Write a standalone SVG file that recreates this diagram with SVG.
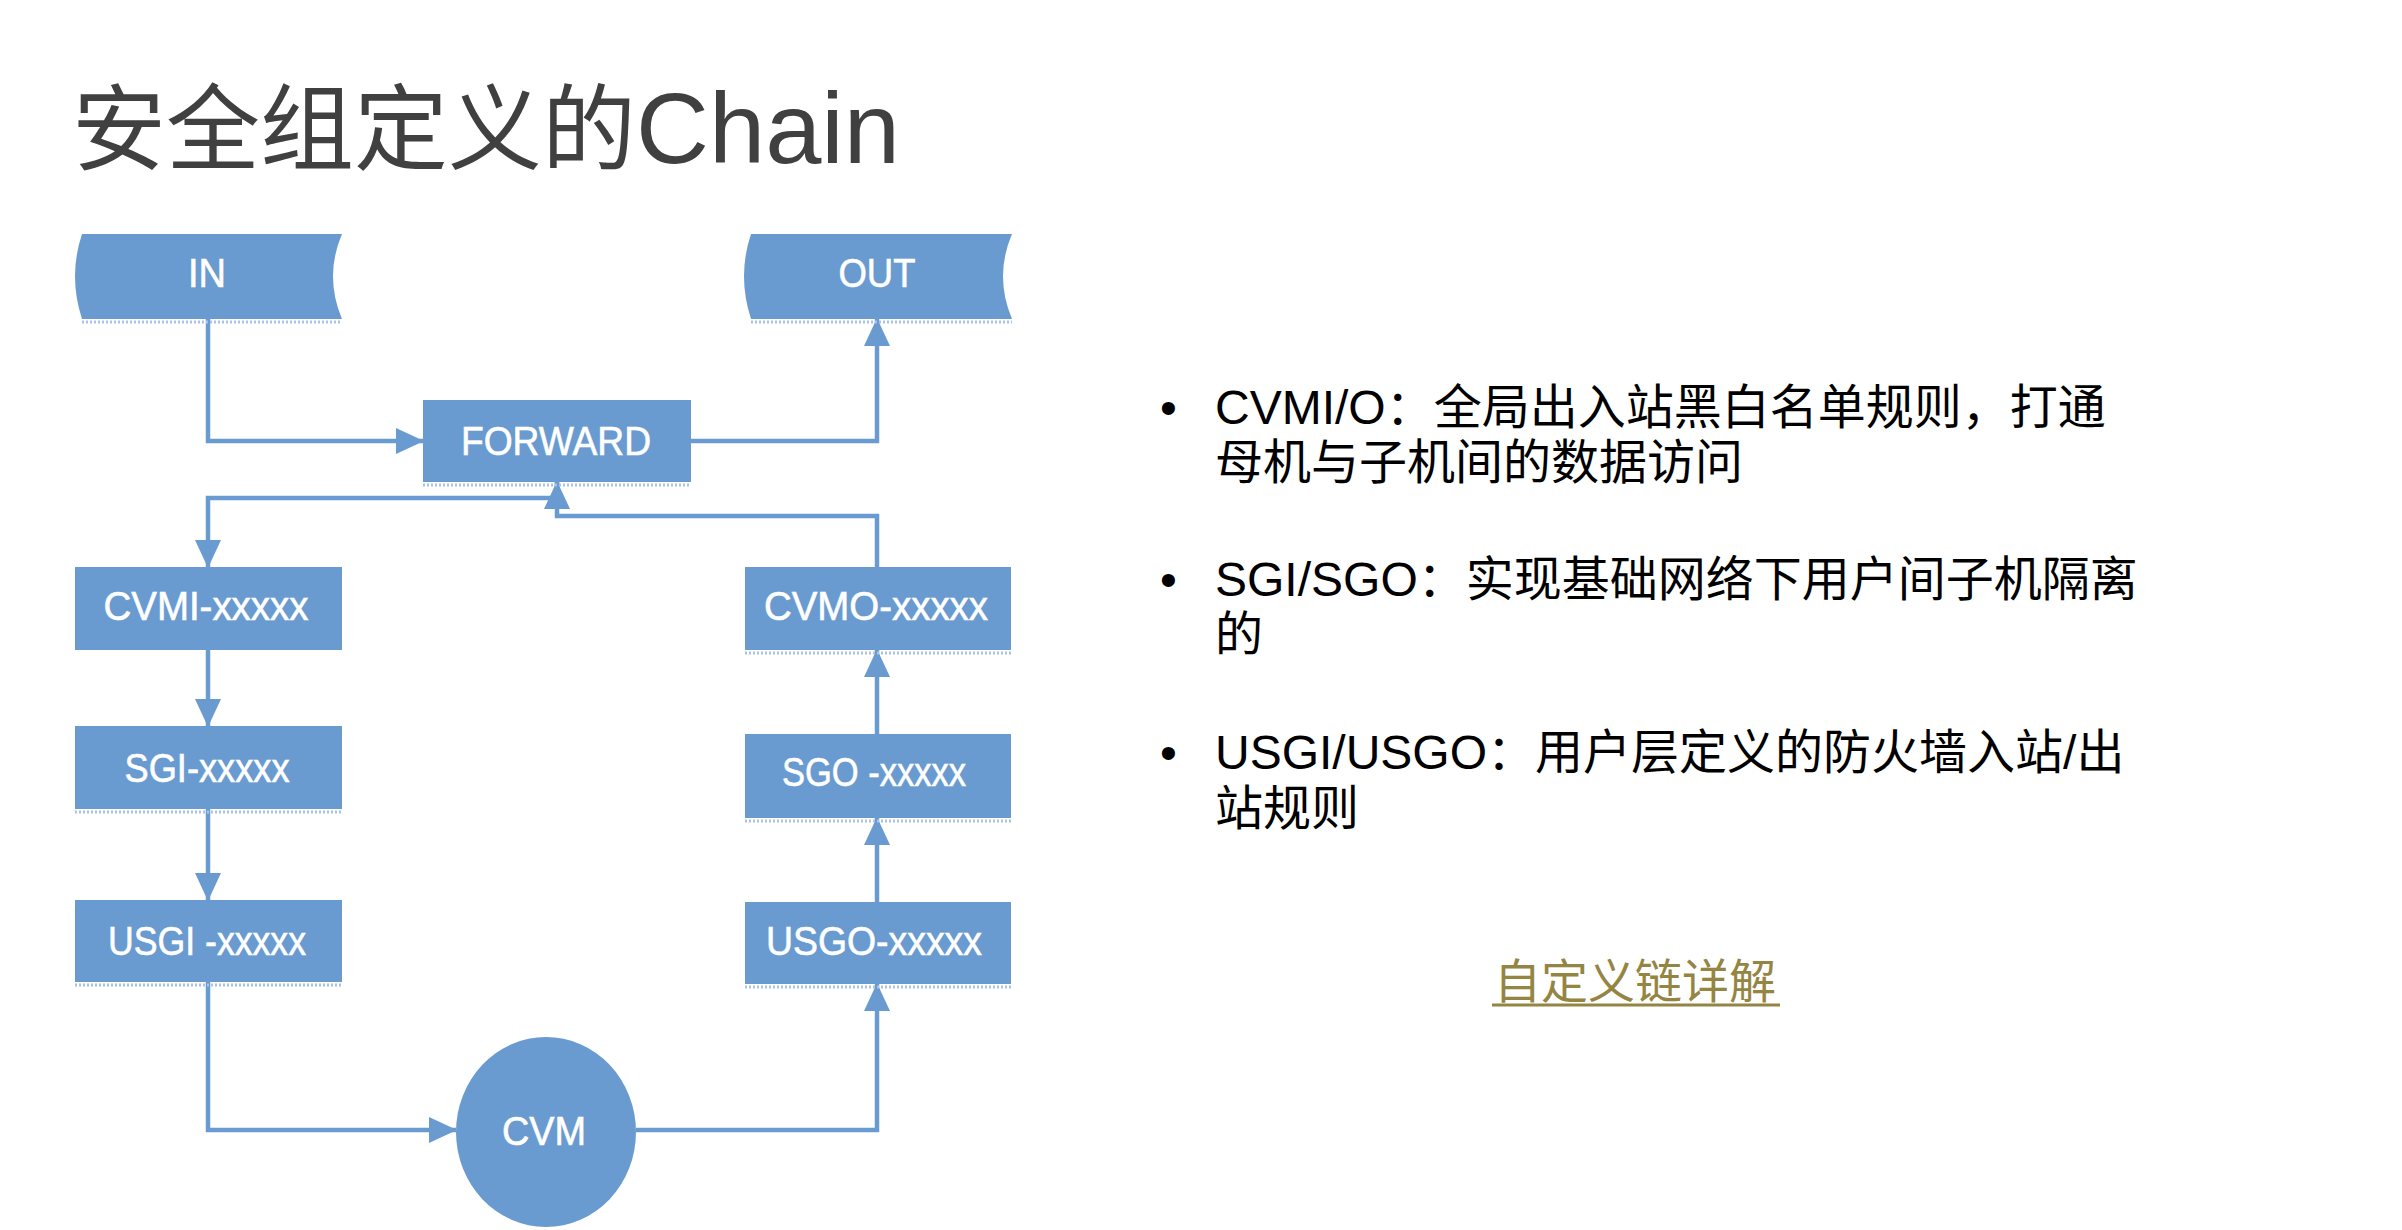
<svg xmlns="http://www.w3.org/2000/svg" width="2402" height="1230" viewBox="0 0 2402 1230">
<defs>
<marker id="arr" viewBox="0 0 28 26" refX="27" refY="13" markerWidth="28" markerHeight="26" markerUnits="userSpaceOnUse" orient="auto">
<path d="M0,0 L28,13 L0,26 Z" fill="#6a9bd0"/>
</marker>
<style>
.node{fill:#6a9bd0;}
.lbl{font-family:"Liberation Sans","Open Sans",sans-serif;font-size:40px;fill:#ffffff;stroke:#ffffff;stroke-width:0.6;text-anchor:middle;}
.shadow{fill:none;stroke:#a9c3e6;stroke-width:3;stroke-dasharray:2 2;}
.conn{fill:none;stroke:#6a9bd0;stroke-width:4.5;marker-end:url(#arr);}
.body{font-family:"Liberation Sans","Noto Sans CJK SC",sans-serif;font-size:48px;fill:#000000;}
.title{font-family:"Liberation Sans","Noto Sans CJK SC",sans-serif;font-size:94px;fill:#404040;}
.link{font-family:"Noto Sans CJK SC",sans-serif;font-size:47px;fill:#948542;}
</style>
</defs>
<rect width="2402" height="1230" fill="#ffffff"/>
<text class="title" x="72" y="163">安全组定义的<tspan font-size="101">Chain</tspan></text>

<g id="connectors">
<path class="conn" d="M208,319 V441 H423"/>
<path class="conn" d="M691,441 H877 V319"/>
<path class="conn" d="M557,482 V498 H208 V567"/>
<path class="conn" d="M877,567 V516 H557 V482"/>
<path class="conn" d="M208,650 V726"/>
<path class="conn" d="M208,809 V900"/>
<path class="conn" d="M208,982 V1130 H456"/>
<path class="conn" d="M636,1130 H877 V984"/>
<path class="conn" d="M877,902 V818"/>
<path class="conn" d="M877,734 V650"/>
</g>

<g id="in">
<path class="node" d="M82,234 L342,234 Q324,276 342,319 L82,319 Q68,276 82,234 Z"/>
<line class="shadow" x1="82" y1="322" x2="342" y2="322"/>
<text class="lbl" x="207" y="287" textLength="38" lengthAdjust="spacingAndGlyphs">IN</text>
</g>
<g id="out">
<path class="node" d="M751,234 L1012,234 Q994,276 1012,319 L751,319 Q737,276 751,234 Z"/>
<line class="shadow" x1="751" y1="322" x2="1012" y2="322"/>
<text class="lbl" x="877" y="287" textLength="77" lengthAdjust="spacingAndGlyphs">OUT</text>
</g>
<g id="forward">
<rect class="node" x="423" y="400" width="268" height="82"/>
<line class="shadow" x1="423" y1="485" x2="691" y2="485"/>
<text class="lbl" x="556" y="455" textLength="190" lengthAdjust="spacingAndGlyphs">FORWARD</text>
</g>
<g id="cvmi">
<rect class="node" x="75" y="567" width="267" height="83"/>
<text class="lbl" x="206" y="620" textLength="205" lengthAdjust="spacingAndGlyphs">CVMI-xxxxx</text>
</g>
<g id="sgi">
<rect class="node" x="75" y="726" width="267" height="83"/>
<line class="shadow" x1="75" y1="812" x2="342" y2="812"/>
<text class="lbl" x="207" y="782" textLength="165" lengthAdjust="spacingAndGlyphs">SGI-xxxxx</text>
</g>
<g id="usgi">
<rect class="node" x="75" y="900" width="267" height="82"/>
<line class="shadow" x1="75" y1="985" x2="342" y2="985"/>
<text class="lbl" x="207" y="955" textLength="198" lengthAdjust="spacingAndGlyphs">USGI -xxxxx</text>
</g>
<g id="cvmo">
<rect class="node" x="745" y="567" width="266" height="83"/>
<line class="shadow" x1="745" y1="653" x2="1011" y2="653"/>
<text class="lbl" x="876" y="620" textLength="224" lengthAdjust="spacingAndGlyphs">CVMO-xxxxx</text>
</g>
<g id="sgo">
<rect class="node" x="745" y="734" width="266" height="84"/>
<line class="shadow" x1="745" y1="821" x2="1011" y2="821"/>
<text class="lbl" x="874" y="786" textLength="184" lengthAdjust="spacingAndGlyphs">SGO -xxxxx</text>
</g>
<g id="usgo">
<rect class="node" x="745" y="902" width="266" height="82"/>
<line class="shadow" x1="745" y1="987" x2="1011" y2="987"/>
<text class="lbl" x="874" y="955" textLength="216" lengthAdjust="spacingAndGlyphs">USGO-xxxxx</text>
</g>
<g id="cvm">
<ellipse class="node" cx="546" cy="1132" rx="90" ry="95"/>
<text class="lbl" x="544" y="1145" textLength="84" lengthAdjust="spacingAndGlyphs">CVM</text>
</g>

<g id="notes">
<text class="body" x="1160" y="424">•</text>
<text class="body" x="1215" y="424">CVMI/O：全局出入站黑白名单规则，打通</text>
<text class="body" x="1215" y="479">母机与子机间的数据访问</text>
<text class="body" x="1160" y="596">•</text>
<text class="body" x="1215" y="596">SGI/SGO：实现基础网络下用户间子机隔离</text>
<text class="body" x="1215" y="651">的</text>
<text class="body" x="1160" y="769">•</text>
<text class="body" x="1215" y="769">USGI/USGO：用户层定义的防火墙入站/出</text>
<text class="body" x="1215" y="825">站规则</text>
</g>
<g id="link">
<text class="link" x="1494" y="998">自定义链详解</text>
<line x1="1492" y1="1005" x2="1780" y2="1005" stroke="#948542" stroke-width="3"/>
</g>
</svg>
